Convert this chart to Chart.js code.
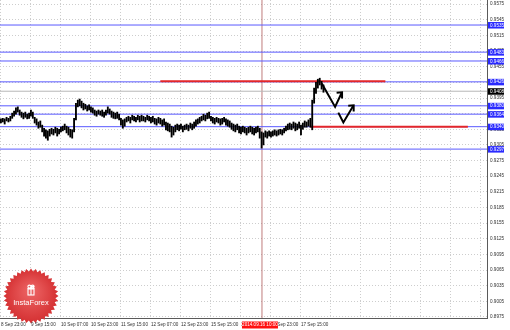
<!DOCTYPE html>
<html>
<head>
<meta charset="utf-8">
<script src="https://cdn.jsdelivr.net/npm/chart.js@4.4.0/dist/chart.umd.min.js"></script>
<style>
  body { margin: 0; background: #fff; }
  canvas { display: block; }
</style>
</head>
<body>
<canvas id="myChart" width="510" height="330"></canvas>
<script>
// H1 bars, USD/CHF (high / low per bar)
const highs = [
  0.9355, 0.9356, 0.9355, 0.9358, 0.9356, 0.9360, 0.9366, 0.9370, 0.9376, 0.9378,
  0.9372, 0.9368, 0.9366, 0.9368, 0.9364, 0.9366, 0.9372, 0.9368, 0.9358, 0.9355,
  0.9349, 0.9351, 0.9343, 0.9337, 0.9334, 0.9332, 0.9335, 0.9337, 0.9335, 0.9339,
  0.9337, 0.9335, 0.9339, 0.9341, 0.9345, 0.9341, 0.9339, 0.9335, 0.9334, 0.9356,
  0.9385, 0.9391, 0.9393, 0.9389, 0.9385, 0.9383, 0.9380, 0.9382, 0.9378, 0.9376,
  0.9372, 0.9370, 0.9372, 0.9370, 0.9372, 0.9368, 0.9372, 0.9378, 0.9374, 0.9370,
  0.9368, 0.9366, 0.9368, 0.9364, 0.9356, 0.9353, 0.9355, 0.9358, 0.9360, 0.9358,
  0.9362, 0.9360, 0.9358, 0.9362, 0.9360, 0.9362, 0.9360, 0.9358, 0.9362, 0.9360,
  0.9358, 0.9360, 0.9356, 0.9355, 0.9358, 0.9356, 0.9353, 0.9355, 0.9349, 0.9347,
  0.9345, 0.9341, 0.9339, 0.9343, 0.9345, 0.9343, 0.9345, 0.9341, 0.9343, 0.9345,
  0.9343, 0.9347, 0.9345, 0.9349, 0.9353, 0.9355, 0.9358, 0.9360, 0.9364, 0.9362,
  0.9366, 0.9368, 0.9360, 0.9358, 0.9356, 0.9358, 0.9356, 0.9355, 0.9356, 0.9358,
  0.9355, 0.9353, 0.9351, 0.9347, 0.9345, 0.9343, 0.9345, 0.9341, 0.9339, 0.9341,
  0.9339, 0.9337, 0.9339, 0.9341, 0.9339, 0.9337, 0.9339, 0.9341, 0.9337, 0.9330,
  0.9328, 0.9332, 0.9330, 0.9332, 0.9330, 0.9332, 0.9334, 0.9332, 0.9334, 0.9335,
  0.9334, 0.9337, 0.9341, 0.9345, 0.9347, 0.9345, 0.9349, 0.9347, 0.9345, 0.9349,
  0.9343, 0.9347, 0.9351, 0.9349, 0.9353, 0.9356, 0.9391, 0.9414, 0.9425, 0.9431,
  0.9433, 0.9427, 0.9420
];
const lows = [
  0.9347, 0.9349, 0.9345, 0.9351, 0.9349, 0.9351, 0.9356, 0.9360, 0.9364, 0.9368,
  0.9362, 0.9358, 0.9355, 0.9358, 0.9355, 0.9356, 0.9360, 0.9356, 0.9347, 0.9343,
  0.9337, 0.9339, 0.9330, 0.9322, 0.9318, 0.9314, 0.9322, 0.9326, 0.9324, 0.9328,
  0.9322, 0.9326, 0.9330, 0.9332, 0.9334, 0.9328, 0.9324, 0.9320, 0.9318, 0.9330,
  0.9353, 0.9378, 0.9380, 0.9376, 0.9372, 0.9374, 0.9370, 0.9372, 0.9368, 0.9366,
  0.9362, 0.9360, 0.9364, 0.9362, 0.9360, 0.9358, 0.9362, 0.9366, 0.9364, 0.9358,
  0.9356, 0.9355, 0.9356, 0.9353, 0.9343, 0.9337, 0.9341, 0.9349, 0.9351, 0.9347,
  0.9353, 0.9351, 0.9349, 0.9353, 0.9349, 0.9351, 0.9351, 0.9349, 0.9353, 0.9351,
  0.9347, 0.9349, 0.9345, 0.9343, 0.9347, 0.9345, 0.9341, 0.9343, 0.9334, 0.9332,
  0.9330, 0.9320, 0.9324, 0.9330, 0.9334, 0.9332, 0.9335, 0.9330, 0.9334, 0.9335,
  0.9332, 0.9337, 0.9334, 0.9337, 0.9341, 0.9345, 0.9347, 0.9351, 0.9353, 0.9351,
  0.9355, 0.9356, 0.9351, 0.9347, 0.9345, 0.9349, 0.9347, 0.9343, 0.9345, 0.9349,
  0.9343, 0.9341, 0.9339, 0.9335, 0.9332, 0.9330, 0.9334, 0.9328, 0.9326, 0.9330,
  0.9328, 0.9324, 0.9328, 0.9330, 0.9326, 0.9324, 0.9328, 0.9330, 0.9318, 0.9299,
  0.9305, 0.9320, 0.9318, 0.9322, 0.9320, 0.9322, 0.9324, 0.9322, 0.9324, 0.9326,
  0.9324, 0.9328, 0.9332, 0.9334, 0.9335, 0.9334, 0.9337, 0.9332, 0.9334, 0.9337,
  0.9324, 0.9335, 0.9339, 0.9339, 0.9341, 0.9339, 0.9334, 0.9385, 0.9404, 0.9414,
  0.9420, 0.9412, 0.9406
];
const lastPrice = 0.9408;

// time axis: a label every 16 bars
const timeTicks = [0, 16, 32, 48, 64, 80, 96, 112, 128, 144, 160, 176, 192, 208, 224, 240, 256];
const timeLabels = ['8 Sep 23:00', '9 Sep 15:00', '10 Sep 07:00', '10 Sep 23:00', '11 Sep 15:00',
  '12 Sep 07:00', '12 Sep 23:00', '15 Sep 15:00', '16 Sep 07:00', '16 Sep 23:00', '17 Sep 15:00'];
const crossIndex = 139.2;
const crossLabel = '2014.09.16 10:00';

// price axis
const priceTicks = [0.8975, 0.9005, 0.9035, 0.9065, 0.9095, 0.9125, 0.9155, 0.9185, 0.9215, 0.9245,
  0.9275, 0.9305, 0.9335, 0.9365, 0.9395, 0.9425, 0.9455, 0.9485, 0.9515, 0.9545, 0.9575];

// support / resistance levels
const blueLevels = [0.9535, 0.9483, 0.9466, 0.9426, 0.9380, 0.9364, 0.9340, 0.9297];
const redLevels = [0.9427, 0.9340];
const redFrom = [85, 165];
const redTo = [205, 249];

// forecast zig-zags (bar index, price)
const forecastA = [[171.1, 0.9423], [178.2, 0.9378], [181.7, 0.9405]];
const headA = [[179.0, 0.9405], [181.9, 0.9406], [181.9, 0.9394]];
const forecastB = [[179.9, 0.9367], [182.6, 0.9348], [187.9, 0.9380]];
const headB = [[185.2, 0.9380], [188.1, 0.9381], [188.1, 0.9369]];

const xMin = -0.5, xMax = 259.2;
const yMin = 0.8973, yMax = 0.9583;

const ctx = document.getElementById('myChart').getContext('2d');

const seg = (pts, color, w, order) => ({
  type: 'line',
  data: pts.map(p => ({ x: p[0], y: p[1] })),
  borderColor: color,
  borderWidth: w,
  pointRadius: 0,
  tension: 0,
  order: order
});

const datasets = [];
datasets.push(seg(forecastA, '#000', 2, 1), seg(headA, '#000', 2, 1),
  seg(forecastB, '#000', 2, 1), seg(headB, '#000', 2, 1));
datasets.push({
  type: 'bar',
  data: highs.map((h, i) => ({ x: i, y: [lows[i], h] })),
  backgroundColor: '#000',
  borderWidth: 0,
  barThickness: 1.2,
  grouped: false,
  order: 2
});
redLevels.forEach((p, i) => datasets.push(seg([[redFrom[i], p], [redTo[i], p]], '#e3262a', 2, 3)));
blueLevels.forEach(p => datasets.push(seg([[xMin, p], [xMax, p]], '#5a5aff', 1, 4)));
datasets.push(seg([[xMin, lastPrice], [xMax, lastPrice]], '#b8b8b8', 1, 5));
datasets.push(seg([[crossIndex, yMin], [crossIndex, yMax]], 'rgba(170,80,80,0.75)', 1, 6));

const tickFont = { family: 'Liberation Sans', size: 4.6 };

// InstaForex badge
const badge = { cx: 31, cy: 296, n: 36 };
function badgePath(c) {
  c.beginPath();
  for (let k = 0; k < badge.n * 2; k++) {
    const r = k % 2 ? 24.5 : 27.5;
    const a = Math.PI * k / badge.n;
    c.lineTo(badge.cx + r * Math.cos(a), badge.cy + r * Math.sin(a));
  }
  c.closePath();
}
function drawBadge(c) {
  const cx = badge.cx, cy = badge.cy;
  c.save();
  badgePath(c);
  const g = c.createRadialGradient(cx, cy - 6, 2, cx, cy, 28);
  g.addColorStop(0, '#ec6363');
  g.addColorStop(1, '#d42f31');
  c.fillStyle = g;
  c.fill();
  // gift icon
  c.strokeStyle = '#fff';
  c.lineWidth = 1.1;
  c.strokeRect(cx - 3, cy - 7, 6, 6);
  c.beginPath();
  c.moveTo(cx, cy - 7); c.lineTo(cx, cy - 1);
  c.moveTo(cx - 3.5, cy - 7.5); c.lineTo(cx + 3.5, cy - 7.5);
  c.stroke();
  c.beginPath();
  c.arc(cx - 1.6, cy - 9.4, 1.5, 0, Math.PI * 2);
  c.arc(cx + 1.6, cy - 9.4, 1.5, 0, Math.PI * 2);
  c.stroke();
  c.fillStyle = '#fff';
  c.font = '7.5px "Liberation Sans"';
  c.textAlign = 'center';
  c.textBaseline = 'middle';
  c.fillText('InstaForex', cx, cy + 7);
  c.restore();
}

function priceTag(c, py, text, bg) {
  c.fillStyle = bg;
  c.fillRect(488, py - 3, 16, 6.5);
  c.fillStyle = '#fff';
  c.fillText(text, 490, py + 0.3);
}

const overlay = {
  id: 'overlay',
  beforeDatasetsDraw(chart) {
    const c = chart.ctx;
    drawBadge(c);
    // time labels stay on top of the badge
    c.save();
    badgePath(c);
    c.clip();
    chart.scales.x.drawLabels(chart.chartArea);
    c.restore();
  },
  afterDraw(chart) {
    const c = chart.ctx;
    const { x, y } = chart.scales;
    c.save();
    c.font = '4.6px "Liberation Sans"';
    c.textBaseline = 'middle';
    c.textAlign = 'left';
    blueLevels.forEach(p => priceTag(c, y.getPixelForValue(p), p.toFixed(4), '#2a2aff'));
    priceTag(c, y.getPixelForValue(lastPrice), lastPrice.toFixed(4), '#000');
    // crosshair time tag
    const px = x.getPixelForValue(crossIndex);
    const b = chart.chartArea.bottom;
    c.fillStyle = '#ff1010';
    c.fillRect(px - 20, b + 3.5, 36, 7);
    c.fillStyle = '#fff';
    c.textAlign = 'center';
    c.fillText(crossLabel, px - 2, b + 7.2);
    c.restore();
  }
};

const myChart = new Chart(ctx, {
  type: 'bar',
  data: { datasets: datasets },
  options: {
    responsive: false,
    animation: false,
    devicePixelRatio: 1,
    layout: { padding: 0 },
    plugins: { legend: { display: false }, tooltip: { enabled: false } },
    scales: {
      x: {
        type: 'linear',
        min: xMin,
        max: xMax,
        bounds: 'data',
        offset: false,
        afterBuildTicks: s => { s.ticks = timeTicks.map(v => ({ value: v })); },
        afterFit: s => { s.height = 12; s.paddingLeft = 0; s.paddingRight = 0; },
        grid: { color: '#cdcdcd', drawTicks: false, offset: false },
        border: { color: '#5a5a5a', dash: [1, 2] },
        ticks: {
          autoSkip: false,
          maxRotation: 0,
          align: 'start',
          padding: 4,
          color: '#303030',
          font: tickFont,
          callback: (v, i) => timeLabels[i] || ''
        }
      },
      y: {
        type: 'linear',
        position: 'right',
        min: yMin,
        max: yMax,
        bounds: 'data',
        beginAtZero: false,
        afterBuildTicks: s => { s.ticks = priceTicks.map(v => ({ value: v })); },
        afterFit: s => { s.width = 23; s.paddingTop = 0; s.paddingBottom = 0; },
        grid: { color: '#cdcdcd', drawTicks: false },
        border: { color: '#5a5a5a', dash: [1, 2] },
        ticks: {
          padding: 3,
          color: '#303030',
          font: tickFont,
          callback: v => v.toFixed(4)
        }
      }
    }
  },
  plugins: [overlay]
});
</script>
</body>
</html>
